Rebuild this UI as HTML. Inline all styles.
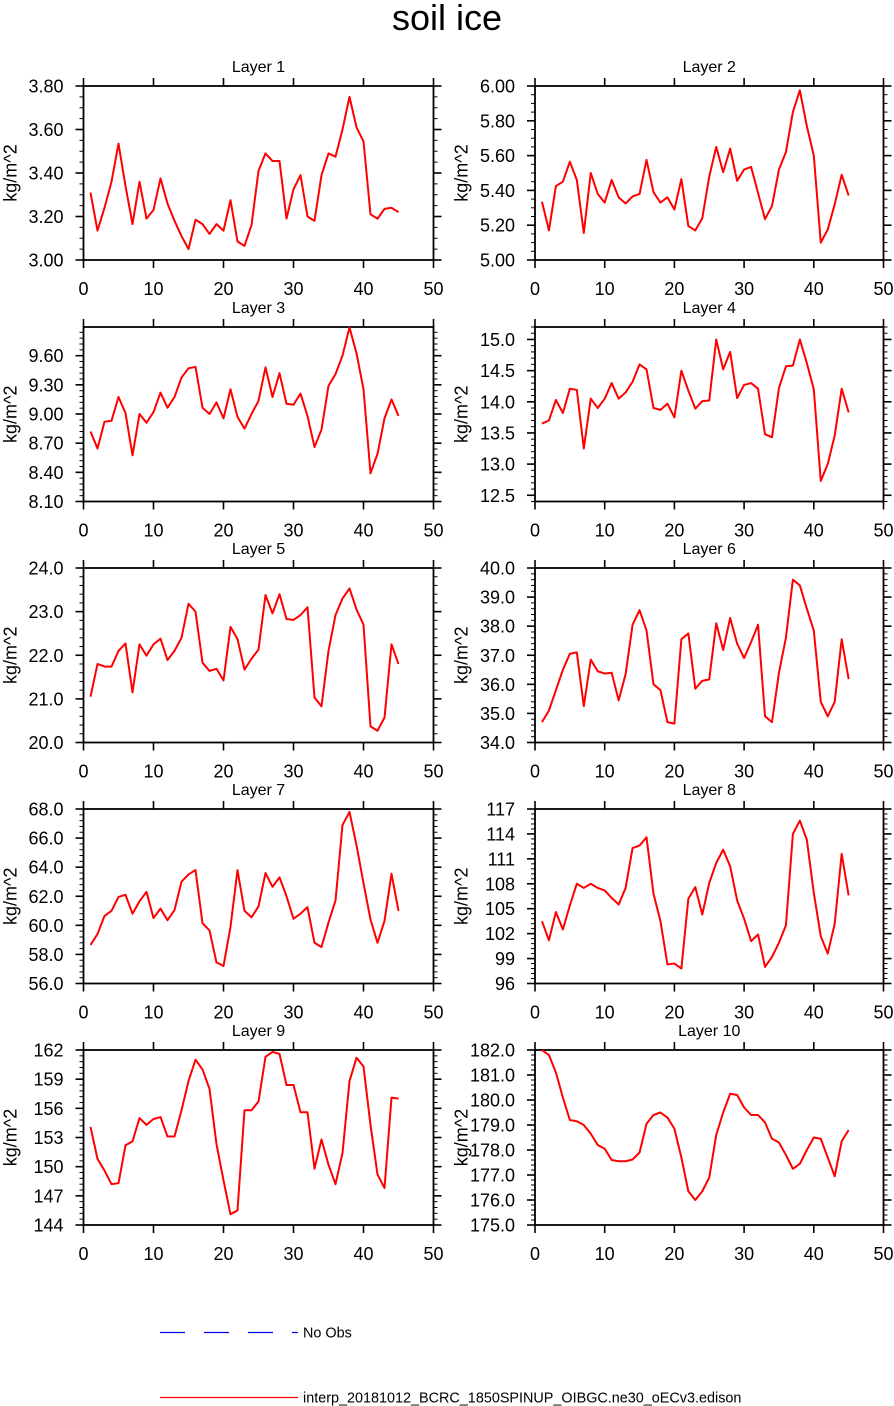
<!DOCTYPE html>
<html><head><meta charset="utf-8"><style>
html,body{margin:0;padding:0;background:#fff;}
svg{display:block;font-family:"Liberation Sans",sans-serif;}
</style></head><body>
<svg id="fig" width="894" height="1406" viewBox="0 0 894 1406" xmlns="http://www.w3.org/2000/svg">
<text x="447" y="30" text-anchor="middle" font-size="36">soil ice</text>
<g>
<line x1="160" y1="1332.5" x2="298" y2="1332.5" stroke="#0000ff" stroke-width="1.3" stroke-dasharray="25,19"/>
<text x="303" y="1337.5" font-size="14.4">No Obs</text>
<line x1="160" y1="1397.5" x2="298" y2="1397.5" stroke="#ff0000" stroke-width="1.3"/>
<text x="303" y="1402.5" font-size="14.4">interp_20181012_BCRC_1850SPINUP_OIBGC.ne30_oECv3.edison</text>
</g>
</svg>
<script>
const xTicks = [0,10,20,30,40,50];
const layerNames = ["Layer 1","Layer 2","Layer 3","Layer 4","Layer 5","Layer 6","Layer 7","Layer 8","Layer 9","Layer 10"];
const yMins = [3.0,5.0,8.1,12.4,20.0,34.0,56.0,96,144,175.0];
const yMaxs = [3.8,6.0,9.895,15.2,24.0,40.0,68.0,117,162,182.0];
const yMajor = [0.2,0.2,0.3,0.5,1.0,1.0,2.0,3,3,1.0];
const yMinor = [0.05,0.05,0.06,0.1,0.2,0.2,0.4,0.6,0.6,0.2];
const yDecimals = [2,2,2,1,1,1,1,0,0,1];
const layer1 = [3.31,3.135,3.24,3.36,3.535,3.34,3.165,3.36,3.19,3.23,3.375,3.26,3.18,3.11,3.05,3.185,3.165,3.12,3.165,3.135,3.275,3.085,3.065,3.16,3.41,3.49,3.455,3.455,3.19,3.325,3.39,3.2,3.18,3.39,3.49,3.475,3.6,3.75,3.61,3.545,3.21,3.19,3.235,3.24,3.22];
const layer2 = [5.335,5.17,5.425,5.45,5.565,5.46,5.155,5.5,5.38,5.33,5.46,5.36,5.325,5.365,5.38,5.575,5.39,5.33,5.36,5.29,5.465,5.195,5.17,5.24,5.48,5.65,5.505,5.64,5.455,5.52,5.535,5.385,5.235,5.31,5.52,5.62,5.85,5.975,5.77,5.6,5.1,5.175,5.32,5.49,5.37];
const layer3 = [8.82,8.645,8.92,8.93,9.175,9.01,8.575,9.0,8.91,9.02,9.22,9.065,9.175,9.375,9.47,9.485,9.065,9.0,9.12,8.955,9.255,8.97,8.85,9.0,9.135,9.48,9.175,9.42,9.105,9.095,9.21,8.98,8.66,8.84,9.29,9.41,9.6,9.89,9.625,9.255,8.39,8.59,8.955,9.15,8.98];
const layer4 = [13.65,13.7,14.03,13.82,14.21,14.19,13.25,14.05,13.9,14.05,14.3,14.05,14.15,14.32,14.6,14.52,13.9,13.87,13.97,13.75,14.5,14.18,13.89,14.01,14.02,15.0,14.52,14.8,14.06,14.27,14.3,14.21,13.48,13.43,14.22,14.57,14.58,15.0,14.62,14.2,12.73,13.0,13.46,14.21,13.83];
const layer5 = [21.05,21.8,21.74,21.74,22.1,22.27,21.15,22.25,21.99,22.25,22.38,21.89,22.1,22.4,23.18,23.0,21.83,21.64,21.69,21.42,22.65,22.37,21.67,21.92,22.13,23.38,22.96,23.4,22.83,22.81,22.92,23.1,21.03,20.83,22.1,22.92,23.3,23.53,23.05,22.7,20.37,20.27,20.57,22.25,21.8];
const layer6 = [34.7,35.1,35.8,36.5,37.05,37.1,35.25,36.85,36.45,36.37,36.4,35.45,36.35,38.05,38.55,37.85,36.0,35.8,34.7,34.65,37.55,37.75,35.85,36.12,36.17,38.1,37.18,38.28,37.4,36.9,37.45,38.05,34.9,34.7,36.4,37.6,39.6,39.4,38.6,37.85,35.4,34.9,35.4,37.55,36.18];
const layer7 = [58.65,59.4,60.65,61.0,61.95,62.1,60.8,61.65,62.3,60.5,61.15,60.35,61.05,63.0,63.5,63.8,60.15,59.65,57.45,57.2,59.9,63.8,61.0,60.55,61.3,63.6,62.65,63.3,62.0,60.45,60.8,61.25,58.8,58.5,60.2,61.7,66.9,67.8,65.5,62.9,60.4,58.8,60.3,63.55,61.0];
const layer8 = [103.5,101.2,104.6,102.5,105.4,108.0,107.5,108.0,107.5,107.2,106.3,105.5,107.5,112.3,112.6,113.6,106.8,103.5,98.3,98.4,97.8,106.2,107.6,104.3,108.1,110.5,112.1,110.1,106.0,103.8,101.1,101.9,98.0,99.2,100.9,103.0,114.0,115.6,113.3,106.9,101.7,99.6,103.2,111.6,106.6];
const layer9 = [154.1,150.8,149.6,148.2,148.3,152.2,152.6,155.0,154.3,154.9,155.1,153.1,153.1,155.8,158.8,161.0,160.0,158.0,152.3,148.6,145.1,145.5,155.8,155.8,156.7,161.3,161.8,161.6,158.4,158.4,155.6,155.6,149.8,152.8,150.2,148.2,151.4,158.8,161.2,160.3,154.3,149.2,147.8,157.1,157.0];
const layer10 = [182.0,181.8,181.1,180.1,179.2,179.15,179.0,178.65,178.2,178.05,177.6,177.55,177.55,177.62,177.9,179.05,179.4,179.5,179.3,178.85,177.7,176.35,176.0,176.35,176.9,178.6,179.5,180.25,180.2,179.7,179.4,179.4,179.1,178.45,178.3,177.8,177.25,177.45,178.0,178.5,178.45,177.7,176.95,178.35,178.8];
const layerSeries = [layer1,layer2,layer3,layer4,layer5,layer6,layer7,layer8,layer9,layer10];

const NS = "http://www.w3.org/2000/svg";
const svg = document.getElementById("fig");
function mk(tag, attrs, parent){
  const e = document.createElementNS(NS, tag);
  for (const k in attrs) e.setAttribute(k, attrs[k]);
  parent.appendChild(e);
  return e;
}
const colX = [[83.5,433.5],[535,883.5]];
const rowY = [[86,260],[327,501.5],[568,742.5],[809,983.5],[1050,1225]];
const ylabX = [10,461];

for (let i = 0; i < 10; i++) {
  const col = i % 2, row = Math.floor(i / 2);
  const [x0, x1] = colX[col], [yt, yb] = rowY[row];
  const xs = v => x0 + (v - 0) / 50 * (x1 - x0);
  const ys = v => yb - (v - yMins[i]) / (yMaxs[i] - yMins[i]) * (yb - yt);
  const g = mk("g", {}, svg);
  
  
  const t = mk("text", {x: (x0 + x1) / 2, y: yt - 14, "text-anchor": "middle", "font-size": 16}, g);
  t.textContent = layerNames[i];
  
  
  const yl = mk("text", {x: ylabX[col], y: (yt + yb) / 2, "text-anchor": "middle", "font-size": 18, transform: `rotate(-90 ${ylabX[col]} ${(yt + yb) / 2})`, dy: "0.35em"}, g);
  yl.textContent = "kg/m^2";
  
  
  xTicks.forEach(v => {
    const x = xs(v);
    const a = mk("line", {x1: x, x2: x, y1: yb, y2: yb + 8, stroke: "#000", "stroke-width": 1.6}, g);
    
    
    const b = mk("line", {x1: x, x2: x, y1: yt, y2: yt - 8, stroke: "#000", "stroke-width": 1.6}, g);
    
    
    const lb = mk("text", {x: x, y: yb + 35, "text-anchor": "middle", "font-size": 18}, g);
    lb.textContent = String(v);
    
    
  });
  const nMin = Math.floor((yMaxs[i] - yMins[i]) / yMinor[i] + 1e-6);
  for (let k = 0; k <= nMin; k++) {
    const v = yMins[i] + k * yMinor[i];
    const y = ys(v);
    const m1 = mk("line", {x1: x0, x2: x0 - 4, y1: y, y2: y, stroke: "#000", "stroke-width": 1}, g);
    
    
    const m2 = mk("line", {x1: x1, x2: x1 + 4, y1: y, y2: y, stroke: "#000", "stroke-width": 1}, g);
    
    
  }
  const first = Math.ceil(yMins[i] / yMajor[i] - 1e-6) * yMajor[i];
  for (let v = first; v <= yMaxs[i] + 1e-6; v += yMajor[i]) {
    const y = ys(v);
    const a = mk("line", {x1: x0 - 8, x2: x0, y1: y, y2: y, stroke: "#000", "stroke-width": 1.6}, g);
    
    
    const b = mk("line", {x1: x1, x2: x1 + 8, y1: y, y2: y, stroke: "#000", "stroke-width": 1.6}, g);
    
    
    const lb = mk("text", {x: x0 - 20, y: y + 6.5, "text-anchor": "end", "font-size": 18}, g);
    lb.textContent = v.toFixed(yDecimals[i]);
    
    
  }
  const fr = mk("rect", {x: x0, y: yt, width: x1 - x0, height: yb - yt, fill: "none", stroke: "#000", "stroke-width": 1.8}, g);
  
  
  const pts = layerSeries[i].map((v, j) => xs(j + 1).toFixed(2) + "," + ys(v).toFixed(2)).join(" ");
  const pl = mk("polyline", {points: pts, fill: "none", stroke: "#ff0000", "stroke-width": 2, "stroke-linejoin": "round"}, g);
  
  
}
</script>
</body></html>
